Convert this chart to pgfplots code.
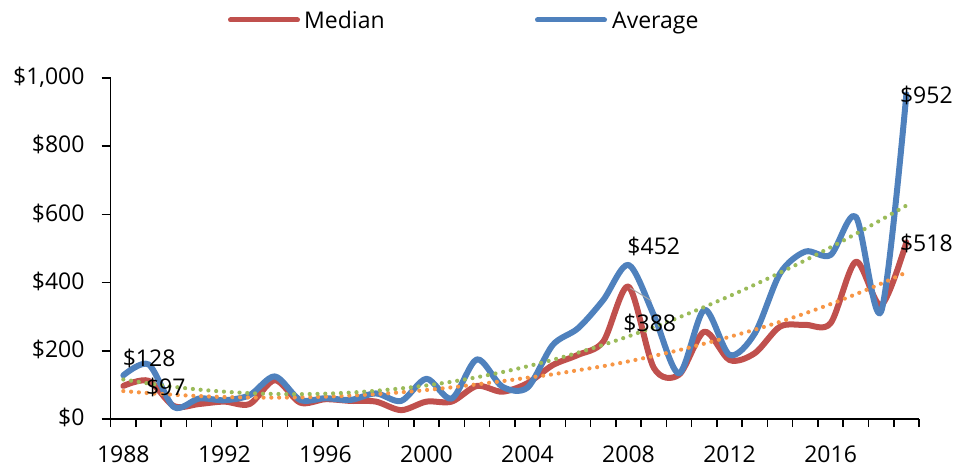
\documentclass[border=0pt]{standalone}
\usepackage{pgfplots}
\pgfplotsset{compat=1.18}
\usepackage{fontspec}
\setmainfont{Open Sans}
\definecolor{cMed}{HTML}{C0504D}
\definecolor{cAvg}{HTML}{4F81BD}
\definecolor{cGrn}{HTML}{9BBB59}
\definecolor{cOrg}{HTML}{F79646}
\pgfplotstableread{
t avg med tavg tmed
0 128 97 116 82
1 160 112 104.2 75.9
2 35 38 94.3 71.0
3 60 44 86.2 67.2
4 55 51 80.1 64.5
5 70 44 75.8 63.0
6 125 114 73.4 62.7
7 56 48 72.9 63.5
8 61 58 74.3 65.5
9 56 53 77.5 68.7
10 75 51 82.7 73.0
11 53 26 89.7 78.4
12 118 51 98.5 85.0
13 60 51 109.3 92.8
14 175 97 122.5 101.7
15 95 80 137.5 111.0
16 92 105 154.5 121.0
17 217 158 173.5 131.0
18 266 188 194.5 143.0
19 349 227 217.5 155.0
20 452 388 242.5 169.0
21 305 150 269.5 185.0
22 134 130 298.0 202.0
23 320 256 328.5 221.0
24 188 173 360.5 241.0
25 251 193 394.0 262.0
26 427 271 429.0 285.0
27 491 276 465.5 310.0
28 481 281 503.5 337.0
29 593 461 543.0 366.0
30 315 334 584.0 397.0
31 952 518 626.0 430.0
}\datatable
\begin{document}
\begin{tikzpicture}
\path[use as bounding box] (0pt,0pt) rectangle (957pt,471pt);
\begin{axis}[
  at={(110.7pt,52pt)}, anchor=south west,
  scale only axis, width=808.3pt, height=341pt,
  xmin=-0.5, xmax=31.5, ymin=0, ymax=1000,
  axis lines=left,
  axis line style={-, line width=1.5pt, black},
  clip=false,
  tick align=outside,
  xtick={0,4,...,28},
  xticklabels={1988,1992,1996,2000,2004,2008,2012,2016},
  minor xtick={-0.5,0.5,...,31.5},
  major x tick style={draw=none},
  minor x tick style={line width=1.5pt, black},
  minor tick length=8pt,
  ytick={0,200,...,1000},
  yticklabels={\$0,\$200,\$400,\$600,\$800,{\$1,000}},
  major y tick style={line width=1.5pt, black},
  major tick length=9pt,
  tick label style={font=\fontsize{23}{28}\selectfont, inner sep=0pt},
  yticklabel style={anchor=base east, xshift=-17pt, yshift=-6.7pt},
  xticklabel style={anchor=north, yshift=-18pt},
]
\addplot[cMed, line width=6pt, smooth, tension=0.5, line cap=round, line join=round] table[x=t, y=med] {\datatable};
\addplot[cAvg, line width=6pt, smooth, tension=0.5, line cap=round, line join=round] table[x=t, y=avg] {\datatable};
\addplot[cOrg, line width=4.2pt, line cap=round, dash pattern=on 0pt off 7.8pt, smooth] table[x=t, y=tmed] {\datatable};
\addplot[cGrn, line width=4.2pt, line cap=round, dash pattern=on 0pt off 7.8pt, smooth] table[x=t, y=tavg] {\datatable};
\draw[gray!70, line width=1pt] (axis cs:20.05,385) -- (axis cs:20.9,347);
\begin{scope}[every node/.style={font=\fontsize{23}{28}\selectfont, inner sep=0pt, anchor=base}]
\node at (axis cs:1.02,155.4) {\$128};
\node at (axis cs:1.68,68.9) {\$97};
\node at (axis cs:21.0,481) {\$452};
\node at (axis cs:20.84,258) {\$388};
\node at (axis cs:31.79,925.8) {\$952};
\node at (axis cs:31.79,490.6) {\$518};
\end{scope}
\end{axis}
\draw[cMed, line width=5pt, line cap=round] (230.5pt,451pt) -- (297.5pt,451pt);
\node[font=\fontsize{23}{28}\selectfont, inner sep=0pt, anchor=base west] at (304pt,442.7pt) {Median};
\draw[cAvg, line width=5pt, line cap=round] (537.5pt,451pt) -- (604.5pt,451pt);
\node[font=\fontsize{23}{28}\selectfont, inner sep=0pt, anchor=base west] at (612pt,442.7pt) {Average};
\end{tikzpicture}
\end{document}
